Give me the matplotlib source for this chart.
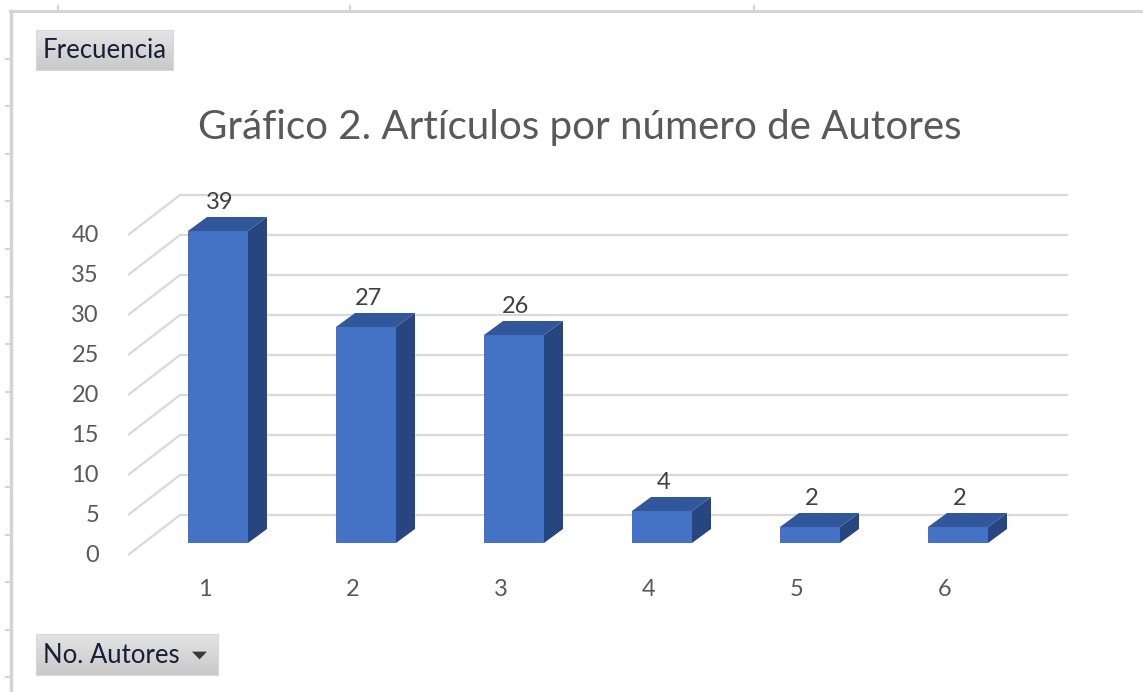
import numpy as np
import matplotlib
matplotlib.use("Agg")
import matplotlib.pyplot as plt
from matplotlib.patches import Polygon, Rectangle
from matplotlib.colors import LinearSegmentedColormap

# data
autores = [1, 2, 3, 4, 5, 6]
frecuencia = [39, 27, 26, 4, 2, 2]
y_ticks = [0, 5, 10, 15, 20, 25, 30, 35, 40]
titulo = "Gráfico 2. Artículos por número de Autores"
boton_valores = "Frecuencia"
boton_eje = "No. Autores"

plt.rcParams['font.family'] = ['Lato', 'DejaVu Sans']

W, H = 1143, 692
fig = plt.figure(figsize=(W / 100, H / 100), dpi=100)
ax = fig.add_axes([0, 0, 1, 1])

# one x unit = 148 px, one value unit = 8 px; category 1 front centre at 218 px,
# value 0 (bar base) at 543 px from the top
SX, SY = 148.0, 8.0
X0, Y0 = 218 - SX, H - 543
ax.set_xlim(-X0 / SX, (W - X0) / SX)
ax.set_ylim(-Y0 / SY, (H - Y0) / SY)
ax.axis('off')


def hx(p):
    # horizontal pixel position -> x data
    return (p - X0) / SX


# 3d geometry (pixels)
bar_w = 60 / SX
bdx, bdy = 19 / SX, 14 / SY           # bar depth
floor_dy = -12 / SY                   # floor front below bar front
wall_dx, wall_dy = 52 / SX, 40 / SY   # full floor depth

grid_c = '#d9d9d9'
for v in y_ticks:
    yf = v + floor_dy
    ax.plot([hx(128), hx(128) + wall_dx, hx(1068)],
            [yf, yf + wall_dy, yf + wall_dy], color=grid_c, lw=1.6, zorder=1,
            solid_capstyle='butt')
    ax.text(hx(99), yf, str(v), ha='right', va='center', fontsize=17,
            color='#595959')

front_c, top_c, side_c = '#4472C4', '#32569A', '#27467F'
for x, v in zip(autores, frecuencia):
    l, r = x - bar_w / 2, x + bar_w / 2
    ax.add_patch(Rectangle((l, 0), bar_w, v, facecolor=front_c,
                           edgecolor='none', zorder=3))
    ax.add_patch(Polygon([(r, 0), (r + bdx, bdy), (r + bdx, v + bdy), (r, v)],
                         closed=True, facecolor=side_c, edgecolor='none',
                         zorder=3))
    ax.add_patch(Polygon([(l, v), (r, v), (r + bdx, v + bdy), (l + bdx, v + bdy)],
                         closed=True, facecolor=top_c, edgecolor='none',
                         zorder=3))
    ax.text(x + 2 / SX, v + bdy + 8 / SY, str(v), ha='center', va='baseline',
            fontsize=17, color='#404040', zorder=4)
    ax.text(x - 13 / SX, -47 / SY, str(x), ha='center', va='center',
            fontsize=17, color='#595959')

fig.text(580 / W, 1 - 128 / H, titulo, ha='center', va='center',
         fontsize=29, color='#595959')

# sheet frame lines
line_c = '#d4d4d4'
fig.add_artist(plt.Line2D([10 / W, 1], [1 - 11 / H, 1 - 11 / H], color=line_c, lw=2))
fig.add_artist(plt.Line2D([11 / W, 11 / W], [0, 1 - 11 / H], color=line_c, lw=2.5))
for t in [58, 350, 754]:
    fig.add_artist(plt.Line2D([t / W, t / W], [1 - 11 / H, 1 - 6 / H], color=line_c, lw=1.5))
for t in np.arange(58.6, H, 47.6):
    fig.add_artist(plt.Line2D([6 / W, 10 / W], [1 - t / H, 1 - t / H], color=line_c, lw=1.5))

# field buttons
grad = LinearSegmentedColormap.from_list('btn', ['#e4e4e4', '#c9c9c9'])


def boton(x0, y0, x1, y1, texto, flecha=False):
    bw, bh = x1 - x0, y1 - y0
    b = fig.add_axes([x0 / W, 1 - y1 / H, bw / W, bh / H])
    b.imshow(np.linspace(0, 1, 50).reshape(-1, 1), cmap=grad, aspect='auto',
             extent=[0, 1, 0, 1])
    b.set_xlim(0, 1)
    b.set_ylim(0, 1)
    b.set_xticks([])
    b.set_yticks([])
    for s in b.spines.values():
        s.set_color('#d8d8d8')
    b.text(7 / bw, 0.48, texto, ha='left', va='center', fontsize=18.5,
           color='#1c1c38')
    if flecha:
        ax_ = (bw - 26) / bw
        b.add_patch(Polygon([(ax_, 0.57), (ax_ + 15 / bw, 0.57),
                             (ax_ + 7.5 / bw, 0.38)], closed=True,
                            facecolor='#3a3a3a', edgecolor='none'))


boton(36, 30, 173, 70, boton_valores)
boton(36, 634, 218, 675, boton_eje, flecha=True)

fig.savefig('out.png', dpi=100, facecolor='white')
